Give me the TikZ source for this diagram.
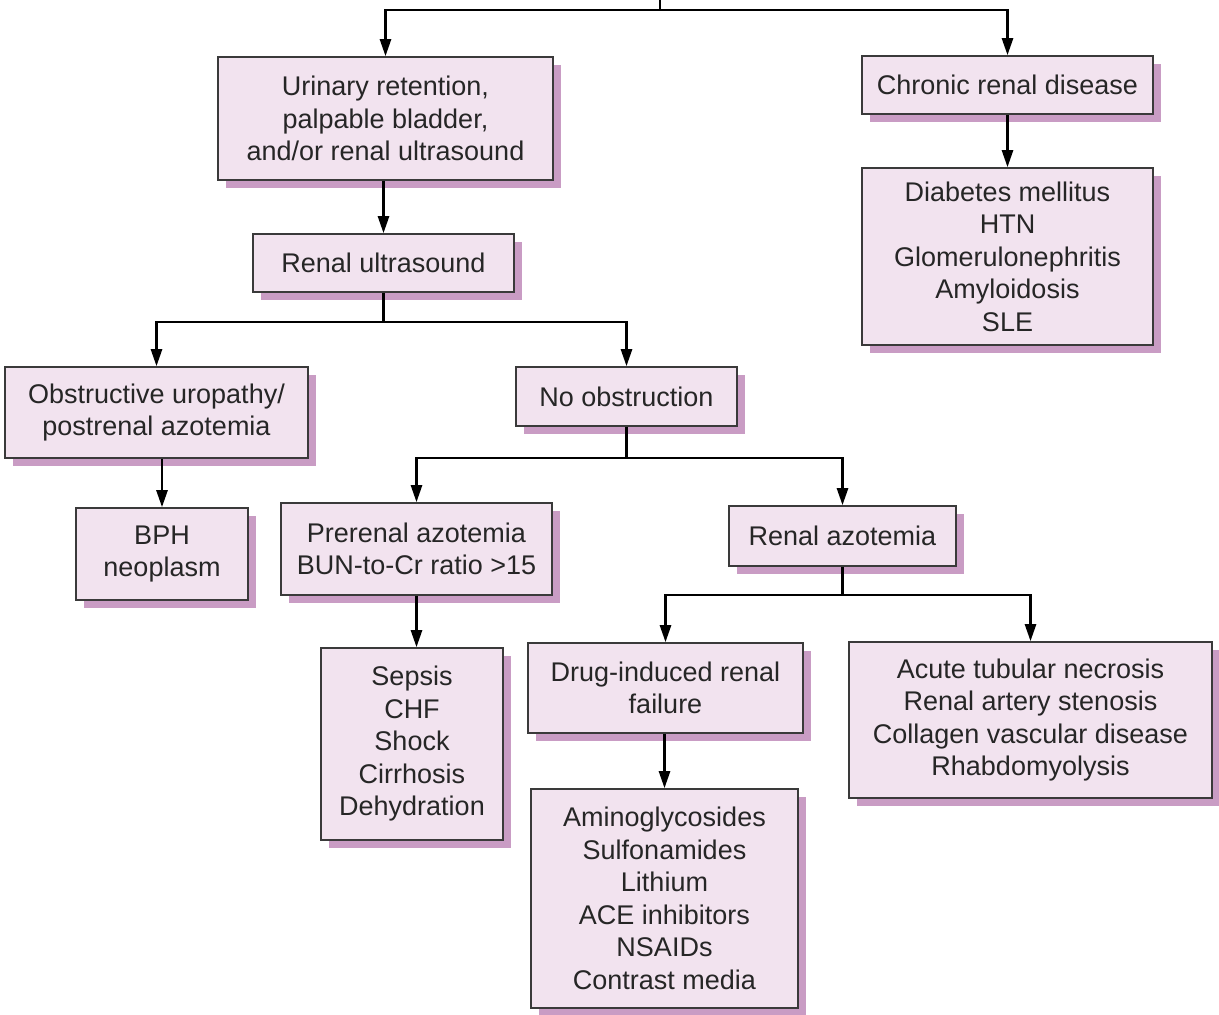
\documentclass[tikz,border=0pt]{standalone}
\usepackage{fontspec}
\setmainfont{Liberation Sans}
\usepackage{xcolor}
\definecolor{boxFill}{HTML}{F2E3EF}
\definecolor{boxShadow}{HTML}{C99CC4}
\definecolor{boxLine}{HTML}{3A3A3A}
\usepackage{tikz}
\usetikzlibrary{arrows.meta, shadows}

\begin{document}
\begin{tikzpicture}[
		x=1pt, y=-1pt,
		box/.style={
			draw=boxLine,
			line width=1.6pt,
			fill=boxFill,
			drop shadow={shadow xshift=8pt, shadow yshift=-8pt, fill=boxShadow, opacity=1},
			align=center,
			inner sep=0pt,
			text=black!85,
			font=\fontsize{27}{32.5}\selectfont
		},
		boxsize/.style 2 args={minimum width=#1pt, minimum height=#2pt},
		arrow/.style={-{Triangle[length=17pt,width=11pt]}, line width=2.5pt}
		]
		
		\useasboundingbox (0,0) rectangle (1219,1015);
		
		% first level
		\node[box, boxsize={335}{123}] (urinary) at (385.5,118.5) {Urinary retention,\\ palpable bladder,\\ and/or renal ultrasound};
		\node[box, boxsize={291}{58}] (chronic) at (1007.5,85) {Chronic renal disease};
		\node[box, boxsize={291}{177}] (chroniccauses) at (1007.5,256.5) {Diabetes mellitus\\ HTN\\ Glomerulonephritis\\ Amyloidosis\\ SLE};
		
		% ultrasound branch
		\node[box, boxsize={261}{58}] (ultrasound) at (383.5,263) {Renal ultrasound};
		\node[box, boxsize={303}{91}] (obstructive) at (156.5,412.5) {Obstructive uropathy/\\ postrenal azotemia};
		\node[box, boxsize={221}{59}] (noobst) at (626.5,396.5) {No obstruction};
		\node[box, boxsize={172}{92}] (bph) at (162,554) {BPH\\ neoplasm};
		
		% no obstruction branch
		\node[box, boxsize={271}{92}] (prerenal) at (416.5,549) {Prerenal azotemia\\ BUN-to-Cr ratio >15};
		\node[box, boxsize={227}{60}] (renal) at (842.5,536) {Renal azotemia};
		\node[box, boxsize={182}{192}] (prerenalcauses) at (412,744) {Sepsis\\ CHF\\ Shock\\ Cirrhosis\\ Dehydration};
		\node[box, boxsize={275}{90}] (drug) at (665.5,688) {Drug-induced renal\\ failure};
		\node[box, boxsize={363}{156}] (intrinsic) at (1030.5,720) {Acute tubular necrosis\\ Renal artery stenosis\\ Collagen vascular disease\\ Rhabdomyolysis};
		\node[box, boxsize={267}{219}] (drugs) at (664.5,898.5) {Aminoglycosides\\ Sulfonamides\\ Lithium\\ ACE inhibitors\\ NSAIDs\\ Contrast media};
		
		\coordinate (top) at (660,0);
		\coordinate (split) at (660,10);
		
		\draw[line width=2.5pt] (top) -- (split);
		\draw[arrow] (split) -| (urinary.north);
		\draw[arrow] (split) -| (chronic.north);
		\draw[arrow] (chronic) -- (chroniccauses);
		\draw[arrow] (ultrasound.north |- urinary.south) -- (ultrasound.north);
		\draw[arrow] (ultrasound.south) -- ++(0,29) -| (obstructive.north);
		\draw[arrow] (ultrasound.south) -- ++(0,29) -| (noobst.north);
		\draw[arrow] (bph.north |- obstructive.south) -- (bph.north);
		\draw[arrow] (noobst.south) -- ++(0,31) -| (prerenal.north);
		\draw[arrow] (noobst.south) -- ++(0,31) -| (renal.north);
		\draw[arrow] (prerenal.south) -- (prerenal.south |- prerenalcauses.north);
		\draw[arrow] (renal.south) -- ++(0,28) -| (drug.north);
		\draw[arrow] (renal.south) -- ++(0,28) -| (intrinsic.north);
		\draw[arrow] (drugs.north |- drug.south) -- (drugs.north);
		
	\end{tikzpicture}
\end{document}
